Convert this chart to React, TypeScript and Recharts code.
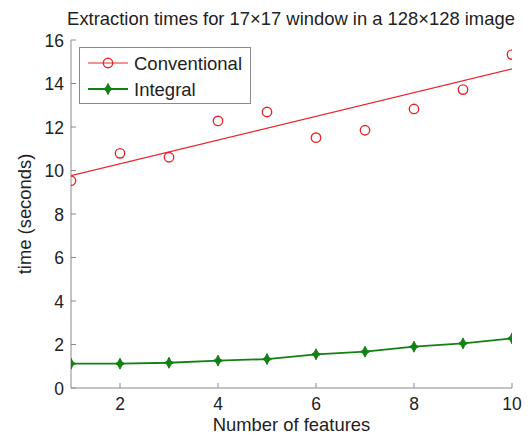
import { ComposedChart, Line, XAxis, YAxis } from 'recharts';

const features = [1, 2, 3, 4, 5, 6, 7, 8, 9, 10];
const conventional = [9.53, 10.79, 10.61, 12.28, 12.69, 11.51, 11.85, 12.83, 13.72, 15.33];
const integral = [1.12, 1.12, 1.16, 1.26, 1.33, 1.55, 1.67, 1.9, 2.05, 2.28];
const fitX = [1, 10];
const fitY = [9.76, 14.67];
const xTicks = [2, 4, 6, 8, 10];
const yTicks = [0, 2, 4, 6, 8, 10, 12, 14, 16];

const RED = '#e8262a';
const GREEN = '#138013';
const AXIS = '#8a8a8a';
const TEXT = '#222';
const FONT = '"Liberation Sans", Arial, sans-serif';

const convData = features.map((x, i) => ({ x, y: conventional[i] }));
const intData = features.map((x, i) => ({ x, y: integral[i] }));
const fitData = fitX.map((x, i) => ({ x, y: fitY[i] }));

const starPath = (cx: number, cy: number) =>
  `M${cx},${cy - 5.5} L${cx + 1.8},${cy - 1.8} L${cx + 4.5},${cy} L${cx + 1.8},${cy + 1.8} ` +
  `L${cx},${cy + 5.5} L${cx - 1.8},${cy + 1.8} L${cx - 4.5},${cy} L${cx - 1.8},${cy - 1.8} Z`;

const BottomTick = (props: any) => {
  const { x, y, payload } = props;
  return (
    <g>
      <line x1={x} x2={x} y1={y} y2={y - 5} stroke={AXIS} />
      <text x={x} y={y + 22} textAnchor="middle" fill={TEXT} fontSize={17.5} fontFamily={FONT}>
        {payload.value}
      </text>
    </g>
  );
};

const TopTick = (props: any) => {
  const { x, y } = props;
  return <line x1={x} x2={x} y1={y} y2={y + 5} stroke={AXIS} />;
};

const LeftTick = (props: any) => {
  const { x, y, payload } = props;
  return (
    <g>
      <line x1={x} x2={x + 5} y1={y} y2={y} stroke={AXIS} />
      <text x={x - 7} y={y + 6.5} textAnchor="end" fill={TEXT} fontSize={17.5} fontFamily={FONT}>
        {payload.value}
      </text>
    </g>
  );
};

const RightTick = (props: any) => {
  const { x, y } = props;
  return <line x1={x} x2={x - 5} y1={y} y2={y} stroke={AXIS} />;
};

const CircleDot = (props: any) => {
  const { cx, cy } = props;
  return <circle cx={cx} cy={cy} r={4.7} fill="none" stroke={RED} strokeWidth={1.4} />;
};

const StarDot = (props: any) => {
  const { cx, cy } = props;
  return <path d={starPath(cx, cy)} fill={GREEN} stroke={GREEN} strokeWidth={1} />;
};

const LegendBox = () => (
  <svg width={172} height={57} style={{ position: 'absolute', left: 79, top: 47 }}>
    <rect x={0.5} y={0.5} width={171} height={56} fill="#fff" stroke={AXIS} />
    <line x1={9} x2={49} y1={16} y2={16} stroke={RED} strokeWidth={1} />
    <circle cx={29} cy={16} r={4.7} fill="none" stroke={RED} strokeWidth={1.4} />
    <text x={55} y={22.5} fill={TEXT} fontSize={18.5} fontFamily={FONT}>Conventional</text>
    <line x1={9} x2={49} y1={42} y2={42} stroke={GREEN} strokeWidth={2.2} />
    <path d={starPath(29, 42)} fill={GREEN} stroke={GREEN} strokeWidth={1} />
    <text x={55} y={48.5} fill={TEXT} fontSize={18.5} fontFamily={FONT}>Integral</text>
  </svg>
);

export default function App() {
  return (
    <div style={{ position: 'absolute', left: 0, top: 0, width: 532, height: 436, background: '#fff' }}>
      <ComposedChart
        width={532}
        height={436}
        margin={{ top: 40, right: 20, bottom: 0, left: 0 }}
        style={{ fontFamily: FONT }}
      >
        <text x={291} y={25} textAnchor="middle" fill={TEXT} fontSize={18.4} fontFamily={FONT}>
          Extraction times for 17×17 window in a 128×128 image
        </text>
        <XAxis
          dataKey="x"
          type="number"
          domain={[1, 10]}
          ticks={xTicks}
          allowDataOverflow
          height={48}
          stroke={AXIS}
          tickSize={0}
          tickMargin={0}
          tick={<BottomTick />}
          label={{ value: 'Number of features', position: 'insideBottom', offset: 5, fill: TEXT, fontSize: 18.4, fontFamily: FONT }}
        />
        <XAxis
          xAxisId="top"
          orientation="top"
          dataKey="x"
          type="number"
          domain={[1, 10]}
          ticks={xTicks}
          allowDataOverflow
          height={0}
          stroke={AXIS}
          tickSize={0}
          tickMargin={0}
          tick={<TopTick />}
        />
        <YAxis
          type="number"
          domain={[0, 16]}
          ticks={yTicks}
          allowDataOverflow
          width={71}
          stroke={AXIS}
          tickSize={0}
          tickMargin={0}
          tick={<LeftTick />}
          label={{ value: 'time (seconds)', angle: -90, position: 'insideLeft', offset: 24, fill: TEXT, fontSize: 18.4, fontFamily: FONT, style: { textAnchor: 'middle' } }}
        />
        <YAxis
          yAxisId="right"
          orientation="right"
          type="number"
          domain={[0, 16]}
          ticks={yTicks}
          allowDataOverflow
          width={0}
          stroke={AXIS}
          tickSize={0}
          tickMargin={0}
          tick={<RightTick />}
        />
        <Line
          data={fitData}
          dataKey="y"
          name="fit"
          stroke={RED}
          strokeWidth={1.3}
          dot={false}
          isAnimationActive={false}
        />
        <Line
          data={convData}
          dataKey="y"
          name="Conventional"
          stroke="none"
          dot={<CircleDot />}
          isAnimationActive={false}
        />
        <Line
          data={intData}
          dataKey="y"
          name="Integral"
          stroke={GREEN}
          strokeWidth={1.8}
          dot={<StarDot />}
          isAnimationActive={false}
        />
      </ComposedChart>
      <LegendBox />
    </div>
  );
}
